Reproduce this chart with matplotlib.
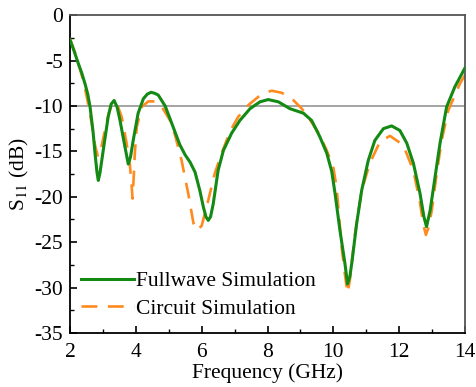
import matplotlib
matplotlib.use("Agg")
import matplotlib.pyplot as plt
from matplotlib.ticker import MultipleLocator

# fullwave simulation, S11 in dB
freq_fw = [2.00, 2.12, 2.25, 2.36, 2.46, 2.54, 2.61, 2.70, 2.76, 2.82, 2.86, 2.91, 3.01, 3.16, 3.25,
           3.34, 3.43, 3.52, 3.67, 3.77, 3.84, 3.92, 4.07, 4.23, 4.35, 4.46, 4.57, 4.68, 4.89, 5.09,
           5.34, 5.50, 5.65, 5.80, 5.95, 6.05, 6.13, 6.20, 6.27, 6.35, 6.50, 6.66, 6.91, 7.16, 7.47,
           7.77, 8.02, 8.33, 8.68, 9.09, 9.34, 9.59, 9.80, 9.95, 10.05, 10.20, 10.35, 10.43,
           10.50, 10.56, 10.71, 10.86, 11.06, 11.26, 11.52, 11.77, 12.02, 12.23, 12.43, 12.63,
           12.75, 12.83, 12.94, 13.09, 13.24, 13.44, 13.69, 14.00]
s11_fw = [-2.7, -3.9, -5.3, -6.4, -7.6, -8.7, -10.1, -12.8, -15.2, -17.3, -18.2, -17.4, -14.9, -11.2, -9.8,
          -9.4, -10.1, -11.6, -14.5, -16.4, -15.6, -13.8, -10.8, -9.2, -8.7, -8.5, -8.6, -8.8, -10.0, -11.9,
          -14.3, -15.4, -16.2, -17.3, -19.4, -21.1, -22.2, -22.6, -22.2, -20.8, -17.1, -14.9, -13.0, -11.6, -10.3,
          -9.55, -9.3, -9.55, -10.3, -10.8, -11.6, -13.4, -15.2, -17.2, -19.6, -23.7, -27.3, -29.6,
          -28.8, -27.3, -22.9, -19.3, -16.0, -13.8, -12.5, -12.2, -12.7, -14.1, -16.3, -19.6,
          -22.2, -23.3, -21.5, -17.8, -14.1, -10.1, -7.9, -5.8]

# circuit model
freq_ckt = [2.00, 2.15, 2.30, 2.41, 2.51, 2.66, 2.76, 2.85, 2.95, 3.06, 3.18, 3.27, 3.37, 3.47, 3.57,
            3.72, 3.82, 3.87, 3.90, 3.94, 3.97, 4.03, 4.18, 4.38, 4.58, 4.79, 5.04, 5.19, 5.39, 5.59,
            5.75, 5.85, 6.00, 6.20, 6.40, 6.61, 6.86, 7.11, 7.42, 7.72, 7.95, 8.13, 8.43, 8.78,
            9.04, 9.34, 9.54, 9.80, 10.00, 10.10, 10.25, 10.36, 10.43, 10.50, 10.66, 10.86, 11.11,
            11.42, 11.72, 12.12, 12.43, 12.63, 12.73, 12.81, 12.89, 12.99, 13.14, 13.29, 13.49,
            13.85, 14.00]
s11_ckt = [-2.6, -4.1, -5.9, -7.3, -9.0, -11.9, -14.3, -15.6, -14.6, -12.7, -10.8, -9.9, -9.6, -10.2, -11.2,
           -14.1, -16.5, -18.6, -20.2, -17.6, -15.2, -12.3, -10.1, -9.5, -9.5, -10.1, -11.6, -13.2, -16.0, -19.6,
           -22.9, -23.7, -23.2, -20.4, -17.4, -15.2, -12.8, -11.2, -9.9, -9.0, -8.5, -8.33, -8.55, -9.35,
           -10.3, -11.8, -12.9, -14.9, -16.8, -19.0, -25.5, -28.8, -30.6, -29.2, -24.0, -19.3, -16.3,
           -13.9, -13.3, -14.3, -17.1, -20.6, -23.0, -24.2, -23.4, -21.5, -17.4, -13.8, -10.5,
           -7.5, -6.6]

plt.rcParams['font.family'] = ['Liberation Serif', 'DejaVu Serif']
plt.rcParams['mathtext.fontset'] = 'stix'
plt.rcParams['axes.unicode_minus'] = False
plt.rcParams['font.size'] = 15.5

fig = plt.figure(figsize=(4.76, 3.87), dpi=100)
ax = fig.add_axes([0.147, 0.1395, 0.83, 0.8215])

ax.axhline(-10, color='#8c8c8c', linewidth=1.1, zorder=1)
ax.plot(freq_fw, s11_fw, color='#138a13', linewidth=2.2, label='Fullwave Simulation', zorder=3)
ax.plot(freq_ckt, s11_ckt, color='#ff8a1e', linewidth=1.9, dashes=(6, 4),
        label='Circuit Simulation', zorder=2)

ax.set_xlim(2, 14)
ax.set_ylim(-35, 0)
ax.xaxis.set_major_locator(MultipleLocator(2))
ax.xaxis.set_minor_locator(MultipleLocator(1))
ax.yaxis.set_major_locator(MultipleLocator(5))
ax.yaxis.set_minor_locator(MultipleLocator(2.5))
ax.tick_params(which='both', direction='in', top=False, right=False, labelsize=15.5)
ax.tick_params(axis='x', which='major', pad=7)
ax.tick_params(axis='y', which='major', pad=5)
ax.tick_params(which='major', length=5, width=1.2)
ax.tick_params(which='minor', length=3, width=1.0)
for s in ax.spines.values():
    s.set_linewidth(1.3)
ax.spines['top'].set_color('#555555')
ax.spines['right'].set_color('#555555')

ax.set_xlabel('Frequency (GHz)', fontsize=15.5, labelpad=1)
ax.set_ylabel(r'S$_{11}$ (dB)', fontsize=15.5, labelpad=2)

ax.legend(loc='lower left', frameon=False, fontsize=15.5, handlelength=2.45,
          labelspacing=0.34, handletextpad=0.08, borderaxespad=0.3, bbox_to_anchor=(-0.01, -0.002))

fig.savefig('out.png', dpi=100)
